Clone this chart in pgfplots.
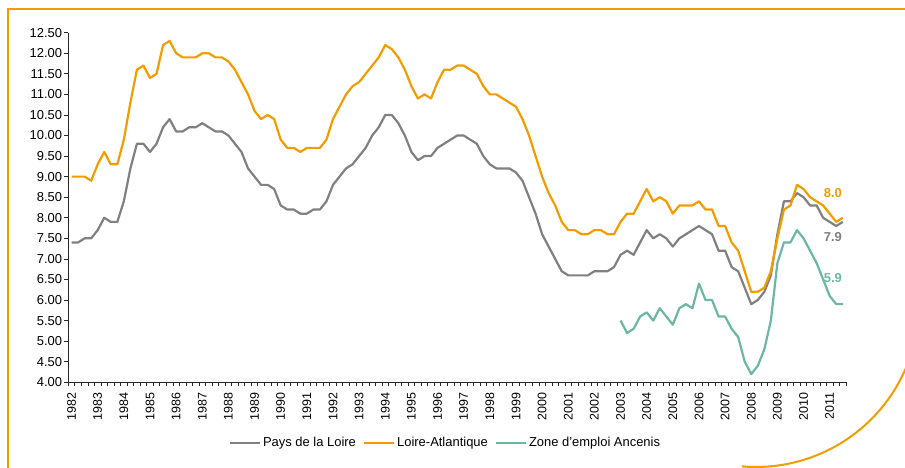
\documentclass[border=0pt]{standalone}
\usepackage{fontspec}
\setmainfont{Liberation Sans}
\usepackage{pgfplots}
\usepackage{pgfplotstable}
\pgfplotsset{compat=1.18}
\definecolor{cgray}{RGB}{128,128,128}
\definecolor{corange}{RGB}{243,156,0}
\definecolor{cteal}{RGB}{108,183,163}

% Quarterly series, 1982Q1 (index 0) to 2011Q3 (index 118)
\pgfplotstableread[row sep=\\]{
v\\
7.4\\7.4\\7.5\\7.5\\7.7\\8.0\\7.9\\7.9\\8.4\\9.2\\9.8\\9.8\\9.6\\9.8\\10.2\\10.4\\10.1\\10.1\\10.2\\10.2\\
10.3\\10.2\\10.1\\10.1\\10.0\\9.8\\9.6\\9.2\\9.0\\8.8\\8.8\\8.7\\8.3\\8.2\\8.2\\8.1\\8.1\\8.2\\8.2\\8.4\\
8.8\\9.0\\9.2\\9.3\\9.5\\9.7\\10.0\\10.2\\10.5\\10.5\\10.3\\10.0\\9.6\\9.4\\9.5\\9.5\\9.7\\9.8\\9.9\\10.0\\
10.0\\9.9\\9.8\\9.5\\9.3\\9.2\\9.2\\9.2\\9.1\\8.9\\8.5\\8.1\\7.6\\7.3\\7.0\\6.7\\6.6\\6.6\\6.6\\6.6\\
6.7\\6.7\\6.7\\6.8\\7.1\\7.2\\7.1\\7.4\\7.7\\7.5\\7.6\\7.5\\7.3\\7.5\\7.6\\7.7\\7.8\\7.7\\7.6\\7.2\\
7.2\\6.8\\6.7\\6.3\\5.9\\6.0\\6.2\\6.6\\7.6\\8.4\\8.4\\8.6\\8.5\\8.3\\8.3\\8.0\\7.9\\7.8\\7.9\\
}\pays

\pgfplotstableread[row sep=\\]{
v\\
9.0\\9.0\\9.0\\8.9\\9.3\\9.6\\9.3\\9.3\\9.9\\10.8\\11.6\\11.7\\11.4\\11.5\\12.2\\12.3\\12.0\\11.9\\11.9\\11.9\\
12.0\\12.0\\11.9\\11.9\\11.8\\11.6\\11.3\\11.0\\10.6\\10.4\\10.5\\10.4\\9.9\\9.7\\9.7\\9.6\\9.7\\9.7\\9.7\\9.9\\
10.4\\10.7\\11.0\\11.2\\11.3\\11.5\\11.7\\11.9\\12.2\\12.1\\11.9\\11.6\\11.2\\10.9\\11.0\\10.9\\11.3\\11.6\\11.6\\11.7\\
11.7\\11.6\\11.5\\11.2\\11.0\\11.0\\10.9\\10.8\\10.7\\10.4\\10.0\\9.5\\9.0\\8.6\\8.3\\7.9\\7.7\\7.7\\7.6\\7.6\\
7.7\\7.7\\7.6\\7.6\\7.9\\8.1\\8.1\\8.4\\8.7\\8.4\\8.5\\8.4\\8.1\\8.3\\8.3\\8.3\\8.4\\8.2\\8.2\\7.8\\
7.8\\7.4\\7.2\\6.7\\6.2\\6.2\\6.3\\6.7\\7.5\\8.2\\8.3\\8.8\\8.7\\8.5\\8.4\\8.3\\8.1\\7.9\\8.0\\
}\loireatl

% Zone d'emploi Ancenis, 2003Q1 (index 84) to 2011Q3 (index 118)
\pgfplotstableread[row sep=\\]{
v\\
5.5\\5.2\\5.3\\5.6\\5.7\\5.5\\5.8\\5.6\\5.4\\5.8\\5.9\\5.8\\6.4\\6.0\\6.0\\5.6\\
5.6\\5.3\\5.1\\4.5\\4.2\\4.4\\4.8\\5.5\\6.9\\7.4\\7.4\\7.7\\7.5\\7.2\\6.9\\6.5\\6.1\\5.9\\5.9\\
}\ancenis

\pgfplotsset{
  legend image code/.code={\draw[#1] (0bp,0bp) -- (30bp,0bp);}
}

\begin{document}
\begin{tikzpicture}[x=1bp,y=1bp]
\path[use as bounding box] (0,0) rectangle (905,468);
\draw[corange, line width=2bp] (8,-2) -- (8,459) -- (910,459);
\draw[corange, line width=2bp] (756,164) ++(-95:163) arc[start angle=-95, end angle=5, radius=163];
\begin{axis}[
  at={(68.3bp,85.7bp)}, anchor=south west, scale only axis,
  width=777.7bp, height=349.6bp,
  xmin=-0.5, xmax=118.5, ymin=4, ymax=12.5,
  axis lines=left,
  axis line style={-, black!85, line width=0.8bp},
  tick align=outside,
  major tick length=4bp,
  every tick/.style={black!85, line width=0.7bp},
  xtick={-0.5,0.5,...,118.5},
  xticklabels={},
  extra x ticks={0,4,...,116},
  extra x tick labels={1982,1983,1984,1985,1986,1987,1988,1989,1990,1991,1992,1993,1994,1995,1996,1997,1998,1999,2000,2001,2002,2003,2004,2005,2006,2007,2008,2009,2010,2011},
  extra x tick style={major tick length=0pt},
  x tick label style={rotate=90, anchor=east, font=\fontsize{12.5}{14}\selectfont, inner sep=0bp, xshift=-10bp},
  ytick={4,4.5,5,5.5,6,6.5,7,7.5,8,8.5,9,9.5,10,10.5,11,11.5,12,12.5},
  y tick label style={font=\fontsize{13}{15}\selectfont, inner sep=2bp},
  yticklabel style={/pgf/number format/.cd, fixed, fixed zerofill, precision=2},
  /pgf/number format/assume math mode=true,
  legend columns=3,
  legend style={draw=none, fill=none, at={(0.485,-0.1736)}, anchor=center,
    font=\fontsize{13}{15}\selectfont, inner sep=0bp,
    /tikz/every even column/.append style={column sep=5bp},
    /tikz/every odd column/.append style={column sep=0bp}},
  clip=false,
]
\addplot[cgray, line width=2.2bp, line join=round] table[x expr=\coordindex, y=v] {\pays};
\addlegendentry{Pays de la Loire}
\addplot[corange, line width=2.2bp, line join=round] table[x expr=\coordindex, y=v] {\loireatl};
\addlegendentry{Loire-Atlantique}
\addplot[cteal, line width=2.2bp, line join=round] table[x expr=\coordindex+84, y=v] {\ancenis};
\addlegendentry{Zone d'emploi Ancenis}
\node[text=corange, font=\bfseries\fontsize{13}{15}\selectfont] at (axis cs:116.5,8.6) {8.0};
\node[text=cgray, font=\bfseries\fontsize{13}{15}\selectfont] at (axis cs:116.5,7.53) {7.9};
\node[text=cteal, font=\bfseries\fontsize{13}{15}\selectfont] at (axis cs:116.5,6.54) {5.9};
\end{axis}
\end{tikzpicture}
\end{document}
